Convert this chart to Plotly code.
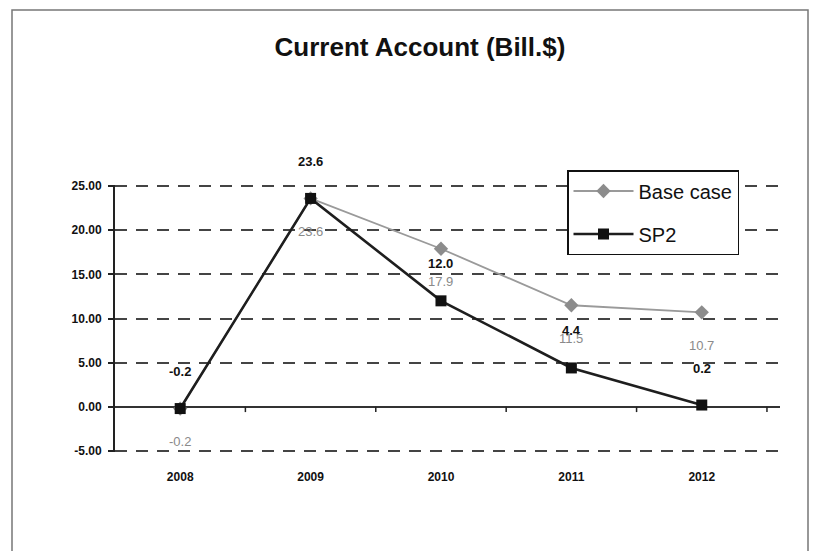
import plotly.graph_objects as go

years = ["2008", "2009", "2010", "2011", "2012"]
base_case = [-0.2, 23.6, 17.9, 11.5, 10.7]
sp2 = [-0.2, 23.6, 12.0, 4.4, 0.2]
y_ticks = [-5, 0, 5, 10, 15, 20, 25]
y_tick_labels = ["-5.00", "0.00", "5.00", "10.00", "15.00", "20.00", "25.00"]

FONT = "Liberation Sans Narrow, Arial Narrow, Liberation Sans, Arial"
W, H = 819, 551
L, R, T, B = 115, 39, 185, 99
pw, ph = W - L - R, H - T - B

xs = list(range(len(years)))

fig = go.Figure()
fig.add_trace(go.Scatter(
    x=xs, y=base_case, name="Base case", mode="lines+markers", legendgroup="a",
    line=dict(color="#9a9a9a", width=1.8),
    marker=dict(symbol="diamond", size=11, color="#8c8c8c"),
))
fig.add_trace(go.Scatter(
    x=xs, y=sp2, name="SP2", mode="lines+markers", legendgroup="b",
    line=dict(color="#1e1e1e", width=2.6),
    marker=dict(symbol="square", size=11, color="#111111"),
))

annotations = []
for x, v in zip(xs, sp2):
    annotations.append(dict(x=x, y=v, xref="x", yref="y", text=f"<b>{v:.1f}</b>",
                            showarrow=False, yshift=37,
                            font=dict(family=FONT, size=13, color="#111")))
for x, v in zip(xs, base_case):
    annotations.append(dict(x=x, y=v, xref="x", yref="y", text=f"{v:.1f}",
                            showarrow=False, yshift=-33,
                            font=dict(family=FONT, size=13, color="#8a8a8a")))

shapes = []
# small tick marks on the zero axis at category boundaries
for i in range(len(years)):
    shapes.append(dict(type="line", xref="x", yref="y", x0=i + 0.5, x1=i + 0.5,
                       y0=0, y1=-0.6, line=dict(color="#222", width=1.5)))
# outer chart border
shapes.append(dict(type="rect", xref="paper", yref="paper",
                   x0=(12 - L) / pw, x1=(808 - L) / pw,
                   y0=(H - B - 600) / ph, y1=(H - B - 10) / ph,
                   line=dict(color="#777", width=1.5), layer="below"))

fig.update_layout(
    width=W, height=H,
    margin=dict(l=L, r=R, t=T, b=B),
    paper_bgcolor="white", plot_bgcolor="white",
    title=dict(text="<b>Current Account (Bill.$)</b>", x=420 / W, xanchor="center",
               y=1 - 47 / H, yanchor="middle",
               font=dict(family=FONT, size=26, color="#111")),
    font=dict(family=FONT, color="#111"),
    showlegend=True,
    legend=dict(x=(567 - L) / pw, y=(H - B - 170) / ph, xanchor="left", yanchor="top",
                bgcolor="white", bordercolor="#111", borderwidth=1.5,
                font=dict(family=FONT, size=20, color="#111"),
                itemwidth=60, tracegroupgap=14, entrywidth=200),
    annotations=annotations,
    shapes=shapes,
)
fig.update_xaxes(
    range=[-0.5, 4.6], tickvals=xs, ticktext=["<b>%s</b>" % y for y in years],
    showgrid=False, zeroline=False, showline=False, ticks="",
    tickfont=dict(family=FONT, size=12, color="#111"), ticklabelstandoff=16,
)
fig.update_yaxes(
    range=[-5.12, 25.12], tickvals=y_ticks, ticktext=["<b>%s</b>" % t for t in y_tick_labels],
    showgrid=True, gridcolor="#444", gridwidth=2, griddash="12px,9px",
    zeroline=True, zerolinecolor="#333", zerolinewidth=1.8,
    showline=True, linecolor="#222", linewidth=2,
    ticks="outside", ticklen=5, tickcolor="#222", tickwidth=1.5,
    tickfont=dict(family=FONT, size=12, color="#111"), ticklabelstandoff=4,
)

fig.write_html("out.html", config={"displayModeBar": False},
               post_script="document.body.style.margin='0';")
